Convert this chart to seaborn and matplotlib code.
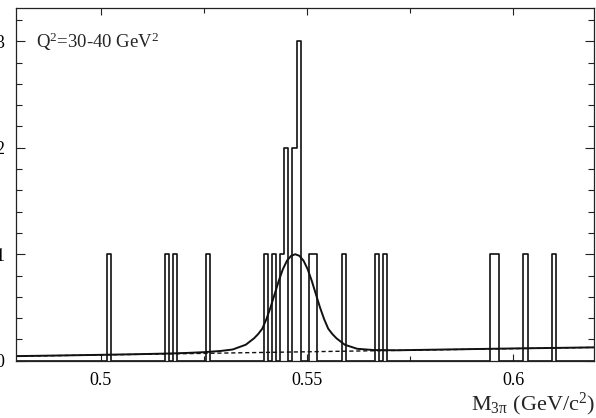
import numpy as np
import pandas as pd
import matplotlib
matplotlib.use("Agg")
import matplotlib.pyplot as plt
import seaborn as sns
from matplotlib.ticker import MultipleLocator

# ---- data ----
# histogram: bin centres (GeV/c^2) with non-zero entries, bin width 0.001
bin_centers = [0.502, 0.516, 0.518, 0.526, 0.540, 0.542, 0.544, 0.545, 0.547,
               0.548, 0.551, 0.552, 0.559, 0.567, 0.569, 0.595, 0.596, 0.603, 0.610]
counts = [1, 1, 1, 1, 1, 1, 1, 2, 2, 3, 1, 1, 1, 1, 1, 1, 1, 1, 1]
hist_range = (0.4795, 0.6195)
bin_width = 0.001

# fitted curve (signal + background)
curve_x = [0.4795, 0.490, 0.500, 0.510, 0.516, 0.521, 0.525, 0.529, 0.532, 0.5352,
           0.5372, 0.5382, 0.5392, 0.5402, 0.5412, 0.5422, 0.5432, 0.5442, 0.5452,
           0.5462, 0.5472, 0.5482, 0.5492, 0.5502, 0.5512, 0.5522, 0.5532, 0.5542,
           0.5552, 0.5562, 0.5572, 0.5592, 0.5622, 0.5662, 0.572, 0.580, 0.590,
           0.600, 0.610, 0.6195]
curve_y = [0.043, 0.049, 0.055, 0.062, 0.067, 0.073, 0.080, 0.091, 0.105, 0.150,
           0.210, 0.250, 0.300, 0.390, 0.500, 0.625, 0.750, 0.860, 0.940,
           0.985, 1.000, 0.985, 0.940, 0.860, 0.750, 0.625, 0.500, 0.390,
           0.300, 0.250, 0.210, 0.150, 0.112, 0.100, 0.098, 0.103, 0.109,
           0.115, 0.120, 0.125]

# background (dashed)
bg_x = [0.4795, 0.6195]
bg_y = [0.042, 0.125]

x_ticks = [0.5, 0.55, 0.6]
y_ticks = [0, 1, 2, 3]

# ---- style ----
sns.set_style("ticks")
plt.rcParams.update({
    "font.family": ["Liberation Serif", "DejaVu Serif"],
    "mathtext.fontset": "custom",
    "mathtext.rm": "Liberation Serif",
    "mathtext.it": "Liberation Serif:italic",
    "mathtext.bf": "Liberation Serif:bold",
    "axes.edgecolor": "#222222",
})

fig = plt.figure(figsize=(5.96, 4.18), dpi=100)
ax = fig.add_axes([16 / 596, 1 - 360.7 / 418, (593.5 - 16) / 596, (360.7 - 8.3) / 418])

df = pd.DataFrame({"m": bin_centers, "n": counts})
sns.histplot(data=df, x="m", weights="n", binwidth=bin_width, binrange=hist_range,
             element="step", fill=False, color="#111111", linewidth=1.2, ax=ax)

sns.lineplot(x=bg_x, y=bg_y, color="#111111", linewidth=1.0,
             linestyle=(0, (3, 2)), ax=ax)
sns.lineplot(x=curve_x, y=curve_y, color="#111111", linewidth=1.4, ax=ax)

ax.set_xlim(hist_range)
ax.set_ylim(0, 3.31)
ax.set_xticks(x_ticks)
ax.set_xticklabels([f"{v:g}" for v in x_ticks])
ax.set_yticks(y_ticks)
ax.xaxis.set_minor_locator(MultipleLocator(0.025))
ax.yaxis.set_minor_locator(MultipleLocator(0.2))
ax.set_xlabel("")
ax.set_ylabel("")

for s in ax.spines.values():
    s.set_visible(True)
    s.set_linewidth(0.9)

ax.tick_params(which="both", direction="in", top=True, right=True,
               labeltop=False, labelright=False, colors="#222222",
               labelsize=13, labelcolor="black", width=0.8)
ax.tick_params(axis="x", which="major", length=5, pad=8)
ax.tick_params(axis="x", which="minor", length=3.5)
ax.tick_params(axis="y", which="major", length=6.5, pad=8.5)
ax.tick_params(axis="y", which="minor", length=4)

ax.text(0.035, 0.886, r"Q$^{2}$=30-40 GeV$^{2}$", transform=ax.transAxes,
        ha="left", va="baseline", fontsize=13.5)

fig.text(0.998, 0.018, r"M$_{\mathrm{3π}}$ (GeV/c$^{2}$)", ha="right", va="baseline",
         fontsize=16)

fig.savefig("out.png", dpi=100)
